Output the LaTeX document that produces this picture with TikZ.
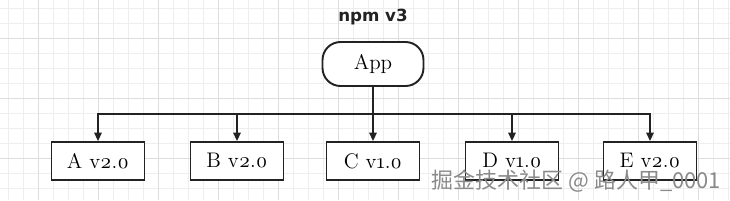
\documentclass[tikz,border=0pt]{standalone}
\usepackage{fontspec}
\setmainfont{Latin Modern Roman}[Numbers=OldStyle]
\newfontfamily\titlefont{DejaVu Sans}
\newfontfamily\cjk{Noto Sans CJK SC}
\usetikzlibrary{arrows.meta, positioning}
\definecolor{cline}{HTML}{222222}
\definecolor{cgrid}{HTML}{EEEEEE}
\definecolor{cgridmaj}{HTML}{DDDDDD}
\definecolor{cmark}{HTML}{8A8A8A}
\tikzset{
  every picture/.style={line width=1.1pt},
  pkg/.style={draw=cline, fill=white, minimum width=1.86cm, minimum height=0.76cm, inner sep=0pt, font=\fontsize{12}{14}\selectfont},
  app/.style={pkg, rounded corners=0.36cm, minimum width=2.02cm, minimum height=0.88cm},
  title/.style={font=\titlefont\bfseries\fontsize{9.5}{11}\selectfont, text=cline},
  arrow/.style={-{Triangle[length=1.7mm, width=1.5mm]}, draw=cline, line width=1.1pt},
  wire/.style={draw=cline, line width=1.1pt},
  wmark/.style={font=\cjk\fontsize{12.5}{14}\selectfont, text=cmark},
}

\begin{document}
\begin{tikzpicture}[x=0.02cm, y=-0.02cm]
  \useasboundingbox (0,0) rectangle (730,200);
  % background grid
  \foreach \g in {8,23,...,728} \draw[cgrid, line width=0.5pt] (\g,0) -- (\g,200);
  \foreach \g in {8,23,...,200} \draw[cgrid, line width=0.5pt] (0,\g) -- (730,\g);
  \foreach \g in {38,98,...,728} \draw[cgridmaj, line width=0.5pt] (\g,0) -- (\g,200);
  \foreach \g in {38,98,...,200} \draw[cgridmaj, line width=0.5pt] (0,\g) -- (730,\g);
  % tree
  \node[title] (ttl) at (373,17) {npm\,\,v3};
  \node[app] (app) at (373,64) {App};
  \coordinate (bus) at (373,114);
  \node[pkg] (a) at (98,161) {A v2.0};
  \node[pkg] (b) at (237,161) {B v2.0};
  \node[pkg] (c) at (373,161) {C v1.0};
  \node[pkg] (d) at (512,161) {D v1.0};
  \node[pkg] (e) at (650,161) {E v2.0};
  \draw[wire] (app.south) -- (bus);
  \draw[arrow] (bus) -- (c.north);
  \foreach \n in {a,b,d,e}
    \draw[arrow] (bus) -| (\n.north);
  % watermark
  \node[wmark, anchor=east] (wm) at (728,181) {掘金技术社区 @ 路人甲\_0001};
\end{tikzpicture}
\end{document}
